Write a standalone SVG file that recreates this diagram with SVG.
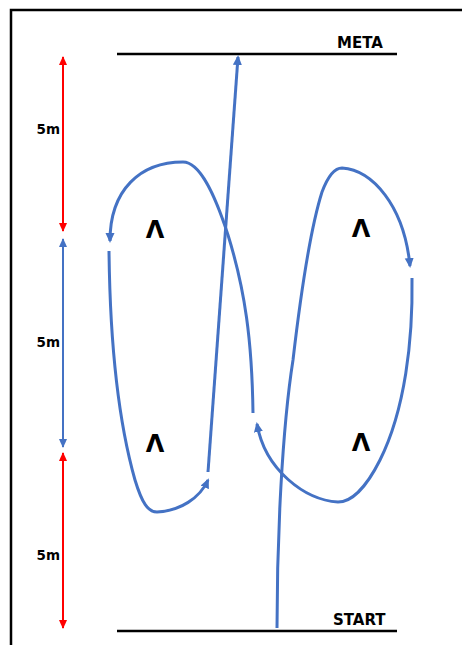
<svg xmlns="http://www.w3.org/2000/svg" width="462" height="645" viewBox="0 0 462 645">
<style>
.lbl{font-family:"DejaVu Sans",Verdana,sans-serif;font-weight:bold;fill:#000}
.path{fill:none;stroke:#4472C4;stroke-width:3;stroke-linecap:butt}
.dimr{stroke:#FF0000;stroke-width:2;fill:none}
.dimb{stroke:#4472C4;stroke-width:2;fill:none}
.line{stroke:#000;stroke-width:2.5}
</style>
<defs>
<marker id="ab" markerUnits="userSpaceOnUse" markerWidth="12" markerHeight="10" refX="8" refY="4.5" orient="auto"><path d="M0,0 L10,4.5 L0,9 z" fill="#4472C4"/></marker>
<marker id="dr" markerUnits="userSpaceOnUse" markerWidth="10" markerHeight="10" refX="8" refY="4" orient="auto-start-reverse"><path d="M0,0 L9,4 L0,8 z" fill="#FF0000"/></marker>
<marker id="db" markerUnits="userSpaceOnUse" markerWidth="10" markerHeight="10" refX="8" refY="4" orient="auto-start-reverse"><path d="M0,0 L9,4 L0,8 z" fill="#4472C4"/></marker>
</defs>
<rect width="462" height="645" fill="#fff"/>
<rect x="11" y="10" width="470" height="700" fill="none" stroke="#000" stroke-width="2.5"/>
<g id="meta">
<line class="line" x1="117" y1="54" x2="397" y2="54"/>
<text class="lbl" x="337" y="48" font-size="15">META</text>
</g>
<g id="start">
<line class="line" x1="117" y1="631" x2="397" y2="631"/>
<text class="lbl" x="333" y="625" font-size="15">START</text>
</g>
<g id="dimensions">
<line class="dimr" x1="63" y1="57" x2="63" y2="231" marker-start="url(#dr)" marker-end="url(#dr)"/>
<line class="dimb" x1="63" y1="239" x2="63" y2="447" marker-start="url(#db)" marker-end="url(#db)"/>
<line class="dimr" x1="63" y1="453" x2="63" y2="628" marker-start="url(#dr)" marker-end="url(#dr)"/>
<text class="lbl" x="60" y="134" font-size="13.5" text-anchor="end">5m</text>
<text class="lbl" x="60" y="347" font-size="13.5" text-anchor="end">5m</text>
<text class="lbl" x="60" y="560" font-size="13.5" text-anchor="end">5m</text>
</g>
<g id="cones">
<text class="lbl" x="155" y="238" font-size="24" text-anchor="middle">Λ</text>
<text class="lbl" x="361" y="237" font-size="24" text-anchor="middle">Λ</text>
<text class="lbl" x="155" y="452" font-size="24" text-anchor="middle">Λ</text>
<text class="lbl" x="361" y="451" font-size="24" text-anchor="middle">Λ</text>
</g>
<g id="connectors">
<path class="path" d="M277,628 C277,540 282,430 293,360 C300,300 310,230 322,192 C328,176 334,168 342,168 C372,170 404,205 410,266" marker-end="url(#ab)"/>
<path class="path" d="M412,278 C413,340 405,410 380,460 C365,490 350,502 338,502 C305,500 265,470 257,424" marker-end="url(#ab)"/>
<path class="path" d="M253,413 C252,340 245,290 228,235 C215,195 200,162 183,162 C140,162 110,190 110,241" marker-end="url(#ab)"/>
<path class="path" d="M109,251 C110,340 118,420 135,480 C142,503 148,512 157,512 C180,511 200,498 208,480" marker-end="url(#ab)"/>
<path class="path" d="M208,472 L238,57" marker-end="url(#ab)"/>
</g>
</svg>
